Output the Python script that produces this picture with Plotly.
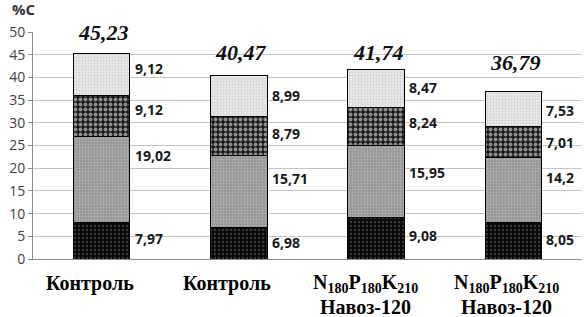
import plotly.graph_objects as go

# ---- data ----
label_line1 = ["Контроль", "Контроль",
               "N<sub>180</sub>P<sub>180</sub>K<sub>210</sub>",
               "N<sub>180</sub>P<sub>180</sub>K<sub>210</sub>"]
label_line2 = ["", "", "Навоз-120", "Навоз-120"]
layer1 = [7.97, 6.98, 9.08, 8.05]     # bottom
layer2 = [19.02, 15.71, 15.95, 14.2]
layer3 = [9.12, 8.79, 8.24, 7.01]
layer4 = [9.12, 8.99, 8.47, 7.53]     # top
totals = [45.23, 40.47, 41.74, 36.79]
y_tick_vals = [0, 5, 10, 15, 20, 25, 30, 35, 40, 45, 50]

# ---- layout tweaks (pixel nudges, not data) ----
seg_nudge = [[2, 1, 2.5, 1], [24, 13, 9, 13], [6, 3, 4.5, 0], [6, 0, 1.5, -1]]
total_nudge = [21, 22.5, 17, 29]
xlabel_shift = [-12, -12, -11, -7]

idx = list(range(len(totals)))
layers = [layer1, layer2, layer3, layer4]
styles = [
    dict(bg="#0a0a0a", fg="#6a6a6a", shape=".", size=4, sol=0.25),
    dict(bg="#959595", fg="#d4d4d4", shape=".", size=3, sol=0.3),
    dict(bg="#1c1c1c", fg="#ffffff", shape=".", size=5, sol=0.45),
    dict(bg="#e8e8e8", fg="#b4b4b4", shape=".", size=3, sol=0.3),
]

fig = go.Figure()
for layer, st in zip(layers, styles):
    fig.add_trace(go.Bar(
        x=idx, y=layer, width=0.41,
        marker=dict(
            color=st["bg"],
            line=dict(color="#000000", width=1),
            pattern=dict(shape=st["shape"], fgcolor=st["fg"], bgcolor=st["bg"],
                         size=st["size"], solidity=st["sol"], fillmode="overlay"),
        ),
        hoverinfo="skip", showlegend=False,
    ))

def fmt(v):
    s = ("%g" % v)
    return s.replace(".", ",")

ann = []
for i in idx:
    base = 0.0
    for k, layer in enumerate(layers):
        v = layer[i]
        ann.append(dict(x=i, y=base + v / 2, xref="x", yref="y", text=fmt(v),
                        showarrow=False, xanchor="left", yanchor="middle",
                        xshift=31, yshift=seg_nudge[k][i],
                        font=dict(family="Open Sans", size=14, color="#1a1a1a", weight="bold")))
        base += v
    ann.append(dict(x=i, y=totals[i], xref="x", yref="y", text="<b><i>" + fmt(totals[i]) + "</i></b>",
                    showarrow=False, xanchor="center", yanchor="middle",
                    xshift=2, yshift=total_nudge[i],
                    font=dict(family="Liberation Serif", size=22, color="#111111")))
    ann.append(dict(x=i, y=0, xref="x", yref="paper", text="<b>" + label_line1[i] + "</b>",
                    showarrow=False, xanchor="center", yanchor="middle",
                    xshift=xlabel_shift[i], yshift=-24.5,
                    font=dict(family="Liberation Serif", size=20, color="#000000")))
    if label_line2[i]:
        ann.append(dict(x=i, y=0, xref="x", yref="paper", text="<b>" + label_line2[i] + "</b>",
                        showarrow=False, xanchor="center", yanchor="middle",
                        xshift=xlabel_shift[i], yshift=-48,
                        font=dict(family="Liberation Serif", size=20, color="#000000")))

ann.append(dict(x=0, y=1, xref="paper", yref="paper", text="<b>%C</b>", showarrow=False,
                xanchor="left", yanchor="middle", xshift=-23, yshift=23,
                font=dict(family="Open Sans", size=15, color="#333333")))

fig.update_layout(
    barmode="stack",
    width=584, height=317,
    margin=dict(l=33, r=2, t=32, b=58),
    paper_bgcolor="#ffffff", plot_bgcolor="#ffffff",
    annotations=ann,
    xaxis=dict(range=[-0.5, 3.5], showticklabels=False, showgrid=False, zeroline=False,
               showline=True, linecolor="#8c8c8c", linewidth=1, ticks=""),
    yaxis=dict(range=[0, 50], tickvals=y_tick_vals, showgrid=True, gridcolor="#c4c4c4",
               gridwidth=1, zeroline=False, showline=True, linecolor="#8c8c8c", linewidth=1,
               ticks="outside", ticklen=4, tickcolor="#8c8c8c",
               tickfont=dict(family="Open Sans", size=14, color="#404040")),
)

fig.write_html("out.html", config={"displayModeBar": False},
               post_script="document.body.style.margin='0';document.body.style.padding='0';")
